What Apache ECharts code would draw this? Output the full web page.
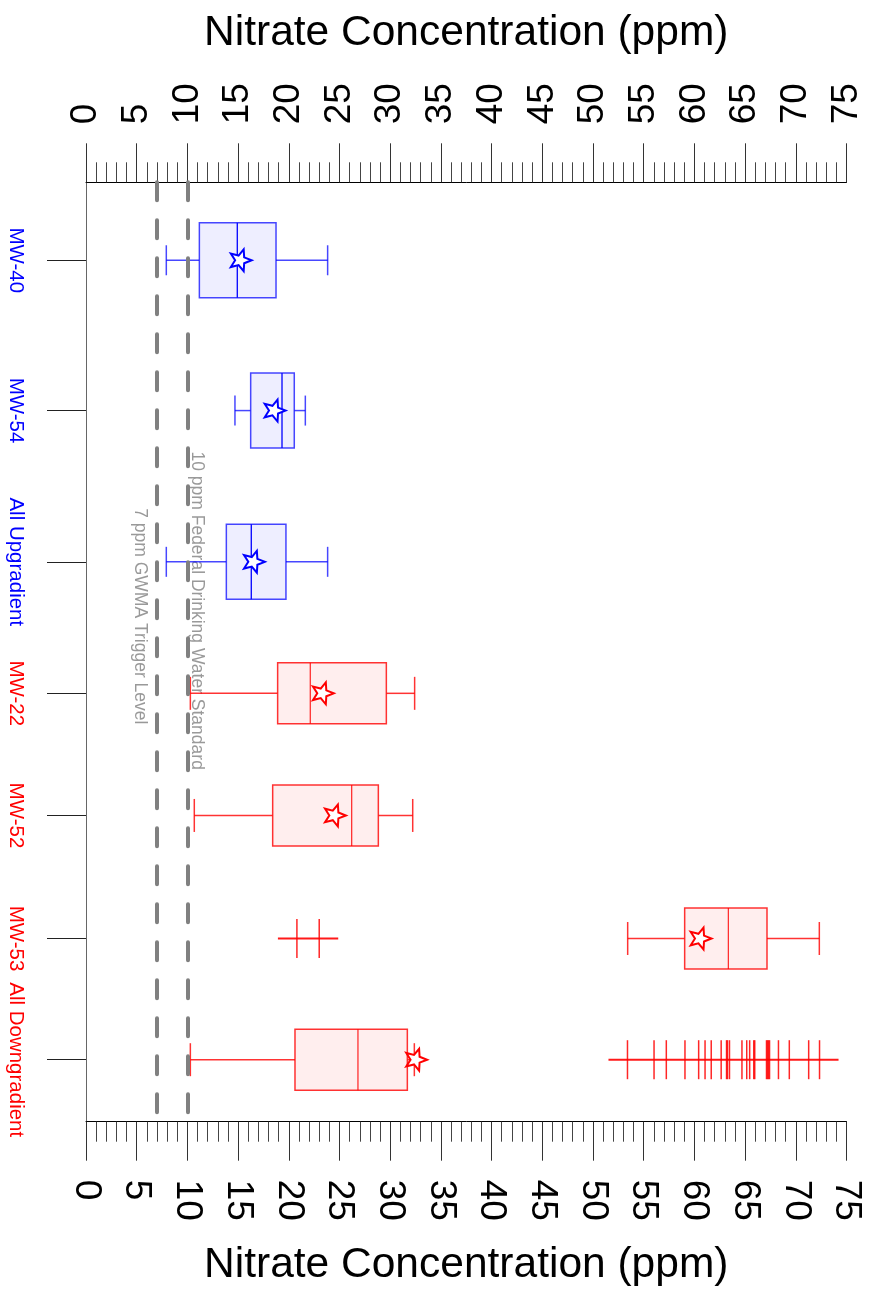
<!DOCTYPE html>
<html><head><meta charset="utf-8">
<script src="https://cdn.jsdelivr.net/npm/echarts@6/dist/echarts.min.js"></script>
<style>html,body{margin:0;padding:0;background:#fff}#c{width:873px;height:1299px}</style>
</head><body><div id="c"></div>
<script>
// ---------- data ----------
const categories = ['MW-40', 'MW-54', 'All Upgradient', 'MW-22', 'MW-52', 'MW-53', 'All Downgradient'];
const categoryPositions = [8.3, 24.3, 40.4, 54.4, 67.4, 80.5, 93.4];
const categoryGroups = ['up', 'up', 'up', 'down', 'down', 'down', 'down'];
const whiskerLow  = [7.92, 14.69, 7.92, 10.29, 10.68, 53.42, 10.29];
const q1          = [11.18, 16.24, 13.84, 18.90, 18.41, 59.04, 20.61];
const median      = [14.92, 19.33, 16.30, 22.12, 26.20, 63.35, 26.82];
const q3          = [18.74, 20.54, 19.72, 29.62, 28.83, 67.16, 31.69];
const whiskerHigh = [23.83, 21.63, 23.83, 32.41, 32.22, 72.32, 32.38];
const mean        = [15.20, 18.54, 16.50, 23.30, 24.49, 60.55, 32.50];
const mw53RowPoints = [20.8, 23.0];
const downRowPoints = [53.40, 56.02, 57.23, 59.07, 60.42, 61.05, 61.66, 62.64, 63.17, 63.26, 63.46, 64.69,
  65.16, 65.45, 65.85, 65.95, 67.11, 67.21, 67.31, 67.41, 68.29, 69.36, 71.27, 72.34];
const refLevels = [10, 7];
const refLabels = ['10 ppm Federal Drinking Water Standard', '7 ppm GWMA Trigger Level'];
const refLabelPositions = [45.6, 46.2];
const xMin = 0, xMax = 75, xStep = 5;
const axisTitle = 'Nitrate Concentration (ppm)';

// ---------- styles ----------
const palette = {
  up:   { stroke: 'rgba(0,0,255,0.72)', median: '#0000ff', fill: '#eeeeff', star: '#0000ff', label: '#0000ff', boxH: 75, capH: 30 },
  down: { stroke: 'rgba(255,0,0,0.8)', median: 'rgba(255,0,0,0.8)', fill: '#ffeeee', star: '#ff0000', label: '#ff0000', boxH: 61, capH: 33 }
};
const FONT = "'Liberation Sans', Arial, sans-serif";

function nearestIndex(v) {
  let best = 0;
  for (let i = 1; i < categoryPositions.length; i++) {
    if (Math.abs(categoryPositions[i] - v) < Math.abs(categoryPositions[best] - v)) best = i;
  }
  return best;
}

function starPoints(cx, cy, R, r) {
  const pts = [];
  for (let k = 0; k < 10; k++) {
    const a = k * Math.PI / 5;
    const rad = k % 2 === 0 ? R : r;
    pts.push([cx + rad * Math.cos(a), cy + rad * Math.sin(a)]);
  }
  return pts;
}

const boxData = categories.map((c, i) => [categoryPositions[i], whiskerLow[i], q1[i], median[i], q3[i], whiskerHigh[i], mean[i], i]);
const stripTickData = mw53RowPoints.map(v => [v, categoryPositions[5]])
  .concat(downRowPoints.map(v => [v, categoryPositions[6]]));
const stripLineData = [
  [Math.min(...mw53RowPoints), Math.max(...mw53RowPoints), categoryPositions[5]],
  [Math.min(...downRowPoints), Math.max(...downRowPoints), categoryPositions[6]]
];

function xAxisCfg(pos, gap) {
  return {
    type: 'value', position: pos, min: xMin, max: xMax, interval: xStep,
    name: axisTitle, nameLocation: 'middle', nameGap: gap,
    nameTextStyle: { fontSize: 42.5, fontFamily: FONT, color: '#000' },
    axisLine: { show: true, onZero: false, lineStyle: { color: '#000', width: 1 } },
    axisTick: { show: true, inside: false, length: 39, lineStyle: { color: '#333', width: 1 } },
    minorTick: { show: true, splitNumber: 5, length: 20, lineStyle: { color: '#444', width: 1 } },
    axisLabel: { rotate: -90, fontSize: 37, fontFamily: FONT, color: '#000', margin: 58 },
    splitLine: { show: false }, minorSplitLine: { show: false }
  };
}

const option = {
  animation: false,
  backgroundColor: '#fff',
  grid: { left: 86, right: 26.5, top: 182.3, bottom: 177.3, outerBoundsMode: 'none', containLabel: false },
  xAxis: [xAxisCfg('bottom', 122), xAxisCfg('top', 128)],
  yAxis: {
    type: 'value', inverse: true, min: 0, max: 100,
    axisLine: { show: true, onZero: false, lineStyle: { color: '#666', width: 1 } },
    axisTick: { show: true, inside: false, length: 39, customValues: categoryPositions, lineStyle: { color: '#222', width: 1 } },
    axisLabel: {
      customValues: categoryPositions, rotate: -90, margin: 59.5, fontSize: 20.5, fontFamily: FONT,
      formatter: v => categories[nearestIndex(v)],
      color: v => palette[categoryGroups[nearestIndex(+v)]].label
    },
    splitLine: { show: false }
  },
  series: [
    {
      type: 'scatter', name: 'refs', xAxisIndex: 0, symbolSize: 1, itemStyle: { color: 'rgba(0,0,0,0)' }, silent: true, z: 3,
      data: refLevels.map((lv, i) => ({
        value: [lv, refLabelPositions[i]],
        label: {
          show: true, formatter: refLabels[i], rotate: -90, align: 'center',
          verticalAlign: i === 0 ? 'bottom' : 'top',
          position: i === 0 ? [1, 0.5] : [-8.1, 0.5],
          fontSize: 17.5, fontFamily: FONT, color: '#7f7f7f'
        }
      })),
      markLine: {
        silent: true, symbol: ['none', 'none'], label: { show: false },
        lineStyle: { color: '#808080', width: 4, type: [18, 20], cap: 'round' },
        data: refLevels.map(lv => ({ xAxis: lv }))
      }
    },
    {
      type: 'custom', name: 'boxes', xAxisIndex: 0, z: 4,
      encode: { x: [1, 2, 3, 4, 5, 6], y: 0 },
      data: boxData,
      renderItem: function (params, api) {
        const i = api.value(7);
        const g = palette[categoryGroups[i]];
        const yc = api.value(0);
        const p = v => api.coord([v, yc]);
        const lo = p(api.value(1)), b1 = p(api.value(2)), md = p(api.value(3));
        const b3 = p(api.value(4)), hi = p(api.value(5)), mn = p(api.value(6));
        const cy = lo[1], hb = g.boxH / 2, hc = g.capH / 2;
        const ls = { stroke: g.stroke, lineWidth: 1.5 };
        return {
          type: 'group',
          children: [
            { type: 'line', shape: { x1: lo[0], y1: cy, x2: b1[0], y2: cy }, style: ls },
            { type: 'line', shape: { x1: b3[0], y1: cy, x2: hi[0], y2: cy }, style: ls },
            { type: 'line', shape: { x1: lo[0], y1: cy - hc, x2: lo[0], y2: cy + hc }, style: ls },
            { type: 'line', shape: { x1: hi[0], y1: cy - hc, x2: hi[0], y2: cy + hc }, style: ls },
            { type: 'rect', shape: { x: b1[0], y: cy - hb, width: b3[0] - b1[0], height: g.boxH },
              style: { fill: g.fill, stroke: g.stroke, lineWidth: 1.5 } },
            { type: 'line', shape: { x1: md[0], y1: cy - hb, x2: md[0], y2: cy + hb },
              style: { stroke: g.median, lineWidth: 1.3 } },
            { type: 'polygon', shape: { points: starPoints(mn[0], cy, 11.5, 5) },
              style: { fill: '#fff', stroke: g.star, lineWidth: 2 } }
          ]
        };
      }
    },
    {
      type: 'custom', name: 'stripLines', xAxisIndex: 0, z: 4,
      encode: { x: [0, 1], y: 2 },
      data: stripLineData,
      renderItem: function (params, api) {
        const a = api.coord([api.value(0), api.value(2)]);
        const b = api.coord([api.value(1), api.value(2)]);
        return { type: 'line', shape: { x1: a[0] - 19, y1: a[1], x2: b[0] + 19, y2: b[1] },
          style: { stroke: 'rgba(255,0,0,0.9)', lineWidth: 2 } };
      }
    },
    {
      type: 'custom', name: 'stripTicks', xAxisIndex: 0, z: 5,
      encode: { x: 0, y: 1 },
      data: stripTickData,
      renderItem: function (params, api) {
        const c = api.coord([api.value(0), api.value(1)]);
        return { type: 'line', shape: { x1: c[0], y1: c[1] - 19.5, x2: c[0], y2: c[1] + 19.5 },
          style: { stroke: 'rgba(255,0,0,0.85)', lineWidth: 1.5 } };
      }
    }
  ]
};

const chart = echarts.init(document.getElementById('c'), null, { renderer: 'canvas', width: 873, height: 1299 });
chart.setOption(option);
</script>
</body></html>
